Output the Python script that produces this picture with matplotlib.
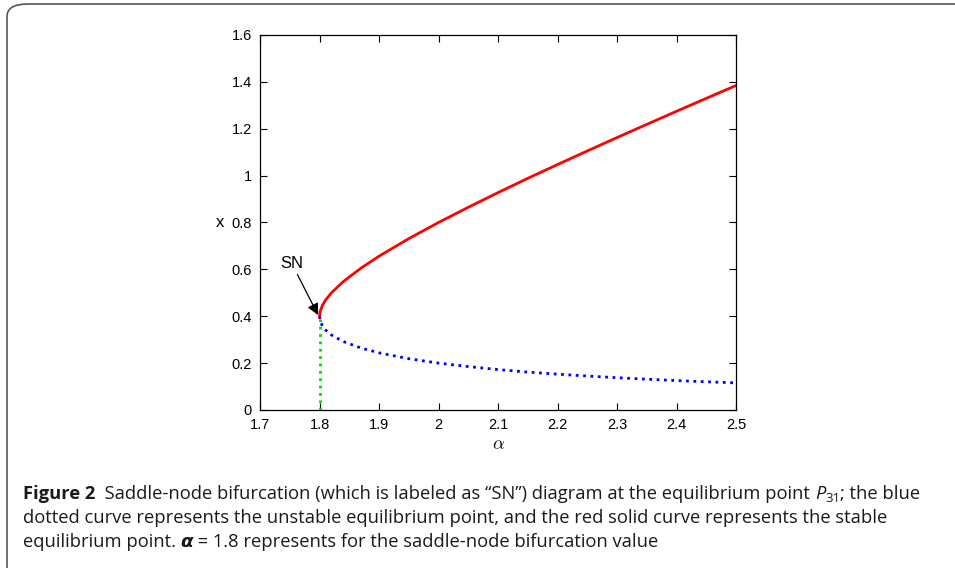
import matplotlib
matplotlib.use('Agg')
import matplotlib.pyplot as plt
from matplotlib.patches import FancyBboxPatch

# bifurcation parameter and the two equilibrium branches
alpha = [1.8, 1.801, 1.805, 1.81, 1.82, 1.84, 1.87, 1.9, 1.95, 2.0, 2.05, 2.1,
         2.15, 2.2, 2.25, 2.3, 2.35, 2.4, 2.45, 2.5]
x_stable = [0.400, 0.4205, 0.4473, 0.4684, 0.500, 0.5481, 0.6059, 0.6562, 0.7312,
            0.800, 0.8648, 0.9275, 0.9883, 1.0472, 1.1052, 1.1623, 1.2186, 1.2745,
            1.3297, 1.3844]
x_unstable = [0.400, 0.3805, 0.3577, 0.3416, 0.320, 0.2919, 0.2641, 0.2438, 0.2188,
              0.200, 0.1852, 0.1725, 0.1617, 0.1528, 0.1448, 0.1377, 0.1314, 0.1255,
              0.1203, 0.1156]
sn_alpha = 1.8
sn_x = 0.4

xticks = [1.7, 1.8, 1.9, 2.0, 2.1, 2.2, 2.3, 2.4, 2.5]
xticklabels = ['1.7', '1.8', '1.9', '2', '2.1', '2.2', '2.3', '2.4', '2.5']
yticks = [0, 0.2, 0.4, 0.6, 0.8, 1.0, 1.2, 1.4, 1.6]
yticklabels = ['0', '0.2', '0.4', '0.6', '0.8', '1', '1.2', '1.4', '1.6']

plt.rcParams['font.family'] = ['Liberation Sans', 'DejaVu Sans']
plt.rcParams['mathtext.fontset'] = 'cm'

fig = plt.figure(figsize=(9.55, 5.68), dpi=100)
ax = fig.add_axes([0.2723, 0.2782, 0.4984, 0.6602])

ax.plot([sn_alpha, sn_alpha], [0, sn_x], color='#00dd00', lw=2, ls=':')
ax.plot(alpha, x_unstable, color='#0000ff', lw=2, ls=':')
ax.plot(alpha, x_stable, color='#ff0000', lw=2)

ax.annotate('SN', xy=(1.7975, 0.405), xytext=(1.753, 0.595),
            fontsize=12, ha='center', va='bottom',
            arrowprops=dict(arrowstyle='-|>', color='black', lw=0.9,
                            mutation_scale=17, shrinkA=1, shrinkB=0))

ax.set_xlim(1.7, 2.5)
ax.set_ylim(0, 1.6)
ax.set_xticks(xticks)
ax.set_xticklabels(xticklabels)
ax.set_yticks(yticks)
ax.set_yticklabels(yticklabels)
ax.tick_params(direction='in', top=True, right=True, labelsize=10.5, length=5,
               width=0.8, pad=6)
for s in ax.spines.values():
    s.set_linewidth(0.9)
ax.set_xlabel(r'$\alpha$', fontsize=13, labelpad=3)
ax.set_ylabel('x', fontsize=12, rotation=0, va='center', labelpad=8)

# caption frame (cropped at the right and bottom)
frame = FancyBboxPatch((7 / 955, -0.05), 1.2, 1.05 - 4 / 568,
                       boxstyle='round,pad=0,rounding_size=0.022',
                       transform=fig.transFigure, fill=False,
                       edgecolor='#555555', lw=1.2, clip_on=False)
fig.patches.append(frame)

# caption, drawn piece by piece so fonts can change inside a line
cap_font = ['Open Sans', 'DejaVu Sans']
cap_size = 13.25
renderer = fig.canvas.get_renderer()


def put(pieces, x0, y0):
    x = x0
    for txt, kw in pieces:
        kw = dict(kw)
        dy = kw.pop('dy', 0)
        t = fig.text(x, y0 + dy, txt, family=kw.pop('family', cap_font),
                     fontsize=kw.pop('size', cap_size), va='baseline', ha='left',
                     color='#1a1a1a', **kw)
        bb = t.get_window_extent(renderer)
        x = bb.x1 / fig.bbox.width


cx = 23 / 955
put([('Figure 2', dict(weight='bold')),
     ('  Saddle-node bifurcation (which is labeled as \u201cSN\u201d) diagram at the equilibrium point ', {}),
     ('P', dict(style='italic')),
     ('31', dict(size=cap_size * 0.72, dy=-0.006)),
     ('; the blue', {})], cx, 1 - 499 / 568)
put([('dotted curve represents the unstable equilibrium point, and the red solid curve represents the stable', {})],
    cx, 1 - 523 / 568)
put([('equilibrium point. ', {}),
     ('\u03b1', dict(weight='bold', style='italic', family=['DejaVu Sans'])),
     (' = 1.8 represents for the saddle-node bifurcation value', {})], cx, 1 - 547 / 568)

fig.savefig('out.png', dpi=100)
